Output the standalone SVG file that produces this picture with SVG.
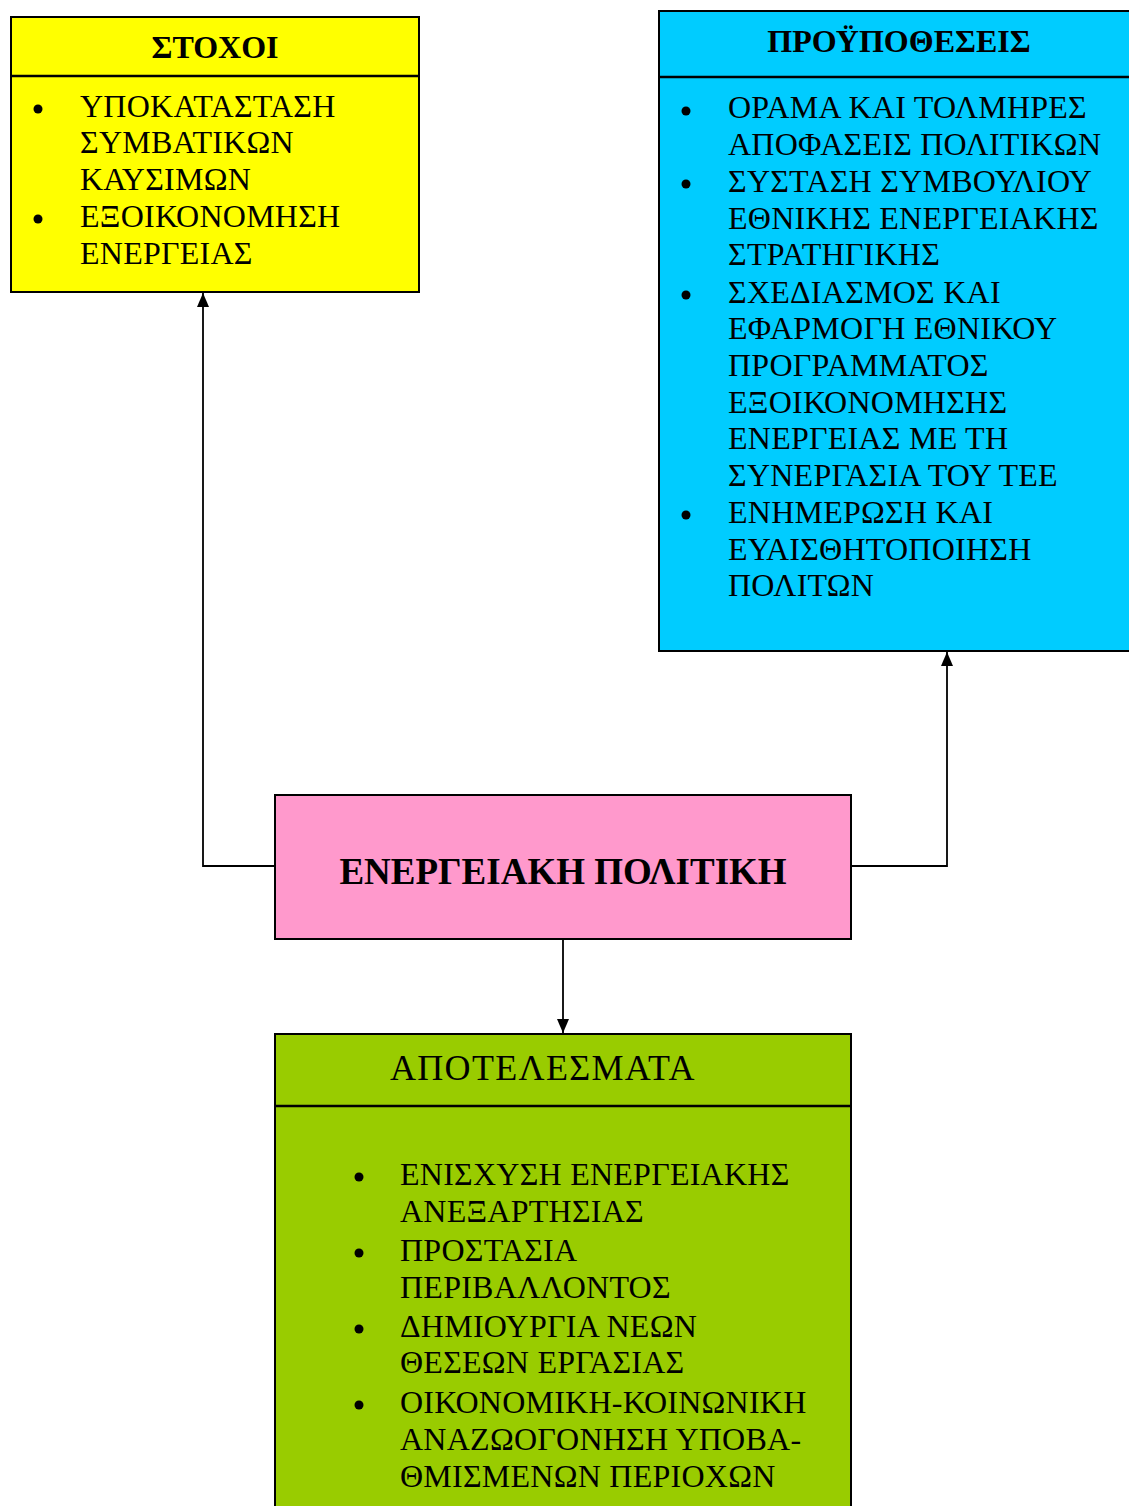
<svg xmlns="http://www.w3.org/2000/svg" width="1129" height="1506" viewBox="0 0 1129 1506">
<defs>
<style>
.box{stroke:#000;stroke-width:2}
.div{stroke:#000;stroke-width:2.5}
.t{font-family:"Liberation Serif","Times New Roman",serif;font-size:32px;letter-spacing:0.25px;fill:#000}
.b{font-weight:bold;letter-spacing:0}
.bul{fill:#000}
.con{fill:none;stroke:#000;stroke-width:1.8}
</style>
<marker id="ah" viewBox="0 0 14 12" refX="14" refY="6" markerWidth="14" markerHeight="12" markerUnits="userSpaceOnUse" orient="auto">
<path d="M0,0 L14,6 L0,12 z" fill="#000"/>
</marker>
</defs>
<rect width="1129" height="1506" fill="#fff"/>
<g id="connectors">
<path class="con" d="M275,866 H203 V293" marker-end="url(#ah)"/>
<path class="con" d="M851,866 H947 V652" marker-end="url(#ah)"/>
<path class="con" d="M563,939 V1033" marker-end="url(#ah)"/>
</g>
<g id="stoxoi">
<rect class="box" x="11" y="17" width="408" height="275" fill="#FFFF00"/>
<line class="div" x1="11" y1="76" x2="419" y2="76"/>
<text class="t b" x="215" y="58" text-anchor="middle">ΣΤΟΧΟΙ</text>
<circle class="bul" cx="38" cy="109" r="4.5"/>
<circle class="bul" cx="38" cy="219" r="4.5"/>
<text class="t" x="80" y="117">ΥΠΟΚΑΤΑΣΤΑΣΗ</text>
<text class="t" x="80" y="153">ΣΥΜΒΑΤΙΚΩΝ</text>
<text class="t" x="80" y="190">ΚΑΥΣΙΜΩΝ</text>
<text class="t" x="80" y="227">ΕΞΟΙΚΟΝΟΜΗΣΗ</text>
<text class="t" x="80" y="264">ΕΝΕΡΓΕΙΑΣ</text>
</g>
<g id="proypotheseis">
<rect class="box" x="659" y="11" width="480" height="640" fill="#00CCFF"/>
<line class="div" x1="659" y1="77" x2="1129" y2="77"/>
<text class="t b" x="899" y="52" text-anchor="middle">ΠΡΟΫΠΟΘΕΣΕΙΣ</text>
<circle class="bul" cx="686" cy="111" r="4.5"/>
<circle class="bul" cx="686" cy="184" r="4.5"/>
<circle class="bul" cx="686" cy="295" r="4.5"/>
<circle class="bul" cx="686" cy="515" r="4.5"/>
<text class="t" x="728" y="118">ΟΡΑΜΑ ΚΑΙ ΤΟΛΜΗΡΕΣ</text>
<text class="t" x="728" y="155">ΑΠΟΦΑΣΕΙΣ ΠΟΛΙΤΙΚΩΝ</text>
<text class="t" x="728" y="192">ΣΥΣΤΑΣΗ ΣΥΜΒΟΥΛΙΟΥ</text>
<text class="t" x="728" y="229">ΕΘΝΙΚΗΣ ΕΝΕΡΓΕΙΑΚΗΣ</text>
<text class="t" x="728" y="265">ΣΤΡΑΤΗΓΙΚΗΣ</text>
<text class="t" x="728" y="303">ΣΧΕΔΙΑΣΜΟΣ ΚΑΙ</text>
<text class="t" x="728" y="339">ΕΦΑΡΜΟΓΗ ΕΘΝΙΚΟΥ</text>
<text class="t" x="728" y="376">ΠΡΟΓΡΑΜΜΑΤΟΣ</text>
<text class="t" x="728" y="413">ΕΞΟΙΚΟΝΟΜΗΣΗΣ</text>
<text class="t" x="728" y="449">ΕΝΕΡΓΕΙΑΣ ΜΕ ΤΗ</text>
<text class="t" x="728" y="486">ΣΥΝΕΡΓΑΣΙΑ ΤΟΥ ΤΕΕ</text>
<text class="t" x="728" y="523">ΕΝΗΜΕΡΩΣΗ ΚΑΙ</text>
<text class="t" x="728" y="560">ΕΥΑΙΣΘΗΤΟΠΟΙΗΣΗ</text>
<text class="t" x="728" y="596">ΠΟΛΙΤΩΝ</text>
</g>
<g id="energeiaki">
<rect class="box" x="275" y="795" width="576" height="144" fill="#FF99CC"/>
<text class="t b" x="563" y="884" text-anchor="middle" style="font-size:37px">ΕΝΕΡΓΕΙΑΚΗ ΠΟΛΙΤΙΚΗ</text>
</g>
<g id="apotelesmata">
<rect class="box" x="275" y="1034" width="576" height="480" fill="#99CC00"/>
<line class="div" x1="275" y1="1106" x2="851" y2="1106"/>
<text class="t" x="390" y="1080" style="font-size:36px;letter-spacing:1.3px">ΑΠΟΤΕΛΕΣΜΑΤΑ</text>
<circle class="bul" cx="359" cy="1177" r="4.5"/>
<circle class="bul" cx="359" cy="1253" r="4.5"/>
<circle class="bul" cx="359" cy="1329" r="4.5"/>
<circle class="bul" cx="359" cy="1405" r="4.5"/>
<text class="t" x="400" y="1185">ΕΝΙΣΧΥΣΗ ΕΝΕΡΓΕΙΑΚΗΣ</text>
<text class="t" x="400" y="1222">ΑΝΕΞΑΡΤΗΣΙΑΣ</text>
<text class="t" x="400" y="1261">ΠΡΟΣΤΑΣΙΑ</text>
<text class="t" x="400" y="1298">ΠΕΡΙΒΑΛΛΟΝΤΟΣ</text>
<text class="t" x="400" y="1337">ΔΗΜΙΟΥΡΓΙΑ ΝΕΩΝ</text>
<text class="t" x="400" y="1373">ΘΕΣΕΩΝ ΕΡΓΑΣΙΑΣ</text>
<text class="t" x="400" y="1413">ΟΙΚΟΝΟΜΙΚΗ-ΚΟΙΝΩΝΙΚΗ</text>
<text class="t" x="400" y="1450">ΑΝΑΖΩΟΓΟΝΗΣΗ ΥΠΟΒΑ-</text>
<text class="t" x="400" y="1487">ΘΜΙΣΜΕΝΩΝ ΠΕΡΙΟΧΩΝ</text>
</g>
</svg>
